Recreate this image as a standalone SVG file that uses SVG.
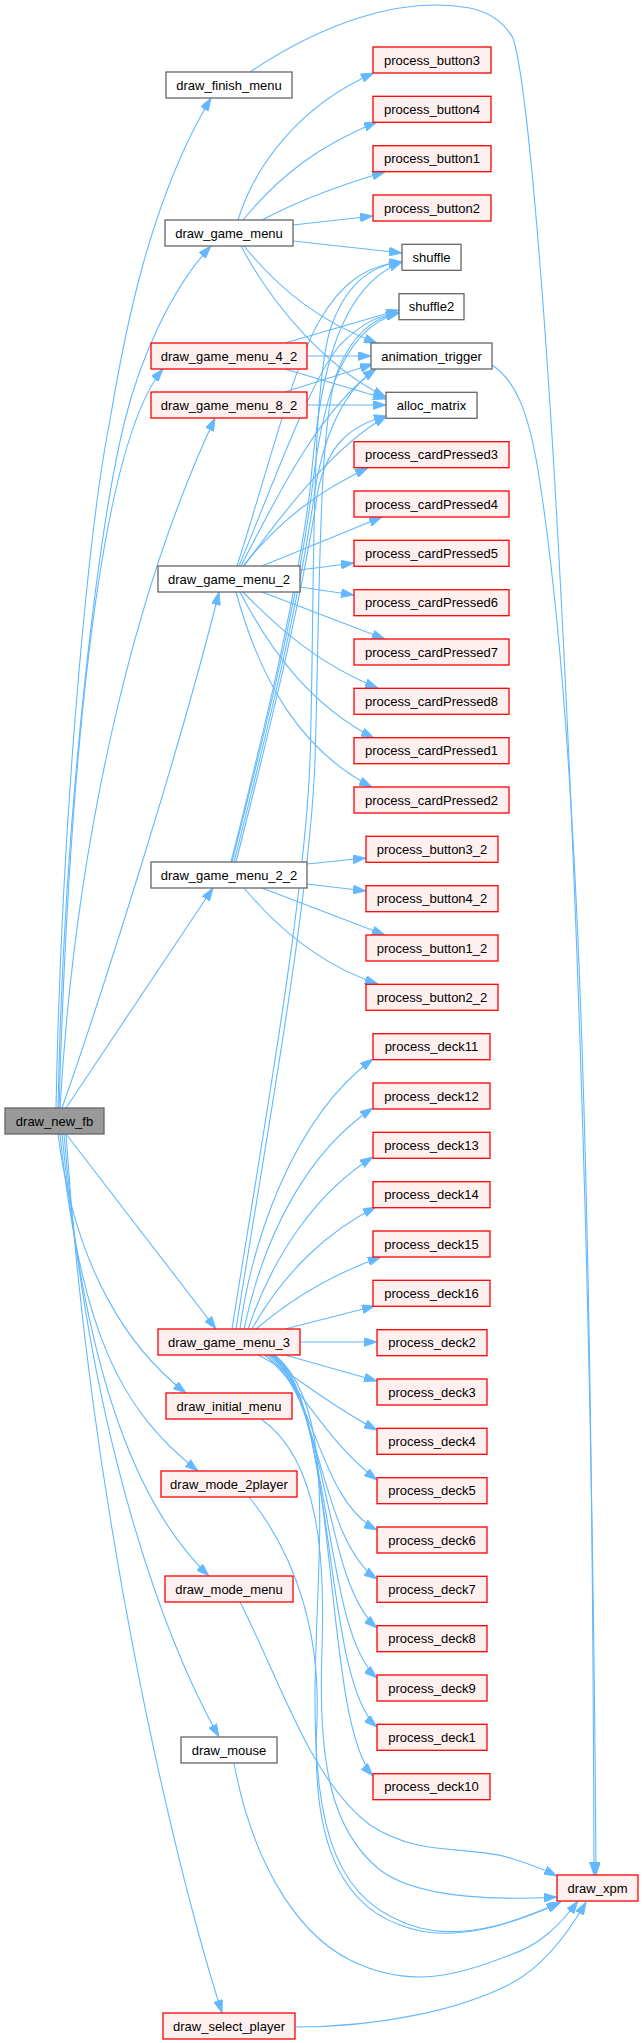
<svg xmlns="http://www.w3.org/2000/svg" width="643" height="2043" viewBox="0 0 643 2043">
<style>
rect{stroke-width:1.3}
.w rect{fill:#ffffff;stroke:#666666}
.r rect{fill:#fff0f0;stroke:#ff0000}
.g rect{fill:#999999;stroke:#666666}
text{font-family:"Liberation Sans",Arial,Helvetica,sans-serif;font-size:13px;text-anchor:middle;fill:#000000}
#edges path{fill:none;stroke:#63b8ff;stroke-width:1.1;marker-end:url(#a)}
</style>
<defs>
<marker id="a" viewBox="0 0 13 9" refX="13" refY="4.5" markerWidth="13" markerHeight="9" markerUnits="userSpaceOnUse" orient="auto">
<path d="M0,0 L13,4.5 L0,9 z" fill="#63b8ff" stroke="#63b8ff" stroke-width="0.8"/>
</marker>
</defs>
<rect width="643" height="2043" fill="#ffffff"/>
<g id="edges">
<path d="M56,1108 C62,800 90,520 110,420 C125,330 150,200 211,98"/>
<path d="M58,1108 C64,800 100,520 125,420 C140,360 170,290 211,246"/>
<path d="M59,1108 C68,800 95,450 163,369"/>
<path d="M60,1108 C75,850 130,600 215,418"/>
<path d="M62,1108 C100,1000 180,750 219,592"/>
<path d="M66,1108 L213,888"/>
<path d="M66,1134 L216,1329"/>
<path d="M58,1134 C75,1270 130,1350 186,1393"/>
<path d="M60,1134 C80,1330 120,1410 198,1471"/>
<path d="M62,1134 C85,1380 140,1510 209,1576"/>
<path d="M64,1134 C90,1450 170,1650 219,1737"/>
<path d="M66,1134 C90,1500 170,1850 222,2013"/>
<path d="M238,220 C255,165 300,105 374,73"/>
<path d="M243,220 C280,175 320,145 377,122"/>
<path d="M262,220 C300,200 340,185 385,172"/>
<path d="M293,225 L373,216"/>
<path d="M293,241 L402,253"/>
<path d="M244,246 C280,290 320,322 377,343"/>
<path d="M241,246 C275,310 330,370 386,397"/>
<path d="M285,343 L399,310"/>
<path d="M307,356 L371,356"/>
<path d="M285,369 L386,399"/>
<path d="M285,392 L373,364"/>
<path d="M307,405 L386,405"/>
<path d="M492,365 C515,380 528,410 538,470 C575,700 592,1100 594,1875"/>
<path d="M250,72 C320,25 400,-5 470,8 C495,14 505,25 513,38 C540,120 590,900 596,1875"/>
<path d="M237,566 C265,480 295,360 320,320 C340,285 365,265 402,262"/>
<path d="M239,566 C275,480 310,380 340,345 C360,325 375,316 399,313"/>
<path d="M241,566 C280,490 320,410 376,369"/>
<path d="M244,566 C285,510 335,445 387,416"/>
<path d="M243,566 C280,520 320,490 368,468"/>
<path d="M262,566 L382,517"/>
<path d="M300,570 L354,563"/>
<path d="M300,587 L354,595"/>
<path d="M262,592 L385,639"/>
<path d="M243,592 C280,630 320,665 378,688"/>
<path d="M240,592 C270,650 310,705 374,738"/>
<path d="M236,592 C260,680 300,750 372,787"/>
<path d="M234,862 C265,740 300,600 315,490 C325,430 345,390 376,369"/>
<path d="M236,862 C267,740 302,600 318,490 C328,445 350,425 387,416"/>
<path d="M232,862 C263,740 298,600 312,490 C320,420 335,330 399,313"/>
<path d="M231,862 C262,740 296,600 310,490 C318,400 330,290 402,262"/>
<path d="M307,864 L366,858"/>
<path d="M307,884 L366,891"/>
<path d="M262,888 L385,935"/>
<path d="M244,888 C275,925 320,965 378,984"/>
<path d="M232,1329 C260,1150 305,900 310,760 C315,600 310,400 330,330 C345,285 370,265 402,262"/>
<path d="M236,1329 C264,1150 310,900 315,760 C320,600 318,420 338,370 C350,340 370,318 399,313"/>
<path d="M240,1329 C250,1250 290,1120 373,1059"/>
<path d="M244,1329 C265,1230 310,1150 373,1108"/>
<path d="M248,1329 C275,1250 320,1190 373,1157"/>
<path d="M252,1329 C285,1270 330,1230 376,1207"/>
<path d="M256,1329 C290,1300 330,1275 381,1257"/>
<path d="M285,1329 L375,1306"/>
<path d="M300,1342 L377,1342"/>
<path d="M285,1355 L377,1381"/>
<path d="M258,1355 C290,1370 320,1400 377,1430"/>
<path d="M265,1355 C300,1385 325,1440 377,1480"/>
<path d="M268,1355 C318,1400 320,1500 377,1530"/>
<path d="M270,1355 C322,1400 320,1540 377,1579"/>
<path d="M271,1355 C328,1400 322,1580 377,1628"/>
<path d="M272,1355 C332,1400 322,1630 377,1678"/>
<path d="M273,1355 C336,1400 322,1680 377,1727"/>
<path d="M274,1355 C340,1400 322,1720 373,1776"/>
<path d="M275,1355 C340,1410 315,1560 315,1700 C315,1830 335,1905 420,1928 C470,1940 520,1920 561,1902"/>
<path d="M261,1419 C320,1460 325,1560 322,1650 C318,1760 330,1830 380,1870 C420,1900 500,1900 557,1897"/>
<path d="M249,1497 C300,1560 320,1640 317,1720 C312,1820 330,1900 400,1925 C450,1945 510,1925 560,1903"/>
<path d="M240,1602 C280,1680 310,1780 370,1825 C420,1858 470,1845 510,1858 C530,1864 545,1870 557,1876"/>
<path d="M234,1763 C250,1850 290,1930 350,1960 C410,1990 460,1975 510,1955 C540,1945 560,1925 578,1901"/>
<path d="M295,2027 C380,2027 460,2010 512,1983 C545,1965 570,1930 586,1902"/>
</g>
<g id="draw_new_fb" class="g"><rect x="5" y="1108" width="99" height="26"/><text x="54.5" y="1125.5">draw_new_fb</text></g>
<g id="draw_finish_menu" class="w"><rect x="166" y="72" width="126" height="26"/><text x="229" y="89.5">draw_finish_menu</text></g>
<g id="draw_game_menu" class="w"><rect x="165" y="220" width="128" height="26"/><text x="229" y="237.5">draw_game_menu</text></g>
<g id="draw_game_menu_4_2" class="r"><rect x="151" y="343" width="156" height="26"/><text x="229" y="360.5">draw_game_menu_4_2</text></g>
<g id="draw_game_menu_8_2" class="r"><rect x="151" y="392" width="156" height="26"/><text x="229" y="409.5">draw_game_menu_8_2</text></g>
<g id="draw_game_menu_2" class="w"><rect x="158" y="566" width="142" height="26"/><text x="229" y="583.5">draw_game_menu_2</text></g>
<g id="draw_game_menu_2_2" class="w"><rect x="151" y="862" width="156" height="26"/><text x="229" y="879.5">draw_game_menu_2_2</text></g>
<g id="draw_game_menu_3" class="r"><rect x="158" y="1329" width="142" height="26"/><text x="229" y="1346.5">draw_game_menu_3</text></g>
<g id="draw_initial_menu" class="r"><rect x="166" y="1393" width="126" height="26"/><text x="229" y="1410.5">draw_initial_menu</text></g>
<g id="draw_mode_2player" class="r"><rect x="161" y="1471" width="136" height="26"/><text x="229" y="1488.5">draw_mode_2player</text></g>
<g id="draw_mode_menu" class="r"><rect x="165" y="1576" width="128" height="26"/><text x="229" y="1593.5">draw_mode_menu</text></g>
<g id="draw_mouse" class="w"><rect x="181" y="1737" width="96" height="26"/><text x="229" y="1754.5">draw_mouse</text></g>
<g id="draw_select_player" class="r"><rect x="163" y="2013" width="132" height="26"/><text x="229" y="2030.5">draw_select_player</text></g>
<g id="process_button3" class="r"><rect x="373" y="47" width="118" height="26"/><text x="432" y="64.5">process_button3</text></g>
<g id="process_button4" class="r"><rect x="373" y="96.3" width="118" height="26"/><text x="432" y="113.8">process_button4</text></g>
<g id="process_button1" class="r"><rect x="373" y="145.7" width="118" height="26"/><text x="432" y="163.2">process_button1</text></g>
<g id="process_button2" class="r"><rect x="373" y="195" width="118" height="26"/><text x="432" y="212.5">process_button2</text></g>
<g id="shuffle" class="w"><rect x="402" y="244.3" width="59" height="26"/><text x="431.5" y="261.8">shuffle</text></g>
<g id="shuffle2" class="w"><rect x="399" y="293.7" width="65" height="26"/><text x="431.5" y="311.2">shuffle2</text></g>
<g id="animation_trigger" class="w"><rect x="371" y="343" width="121" height="26"/><text x="431.5" y="360.5">animation_trigger</text></g>
<g id="alloc_matrix" class="w"><rect x="386" y="392.3" width="91" height="26"/><text x="431.5" y="409.8">alloc_matrix</text></g>
<g id="process_cardPressed3" class="r"><rect x="354" y="441.7" width="155" height="26"/><text x="431.5" y="459.2">process_cardPressed3</text></g>
<g id="process_cardPressed4" class="r"><rect x="354" y="491" width="155" height="26"/><text x="431.5" y="508.5">process_cardPressed4</text></g>
<g id="process_cardPressed5" class="r"><rect x="354" y="540.3" width="155" height="26"/><text x="431.5" y="557.8">process_cardPressed5</text></g>
<g id="process_cardPressed6" class="r"><rect x="354" y="589.7" width="155" height="26"/><text x="431.5" y="607.2">process_cardPressed6</text></g>
<g id="process_cardPressed7" class="r"><rect x="354" y="639" width="155" height="26"/><text x="431.5" y="656.5">process_cardPressed7</text></g>
<g id="process_cardPressed8" class="r"><rect x="354" y="688.3" width="155" height="26"/><text x="431.5" y="705.8">process_cardPressed8</text></g>
<g id="process_cardPressed1" class="r"><rect x="354" y="737.7" width="155" height="26"/><text x="431.5" y="755.2">process_cardPressed1</text></g>
<g id="process_cardPressed2" class="r"><rect x="354" y="787" width="155" height="26"/><text x="431.5" y="804.5">process_cardPressed2</text></g>
<g id="process_button3_2" class="r"><rect x="366" y="836.3" width="132" height="26"/><text x="432" y="853.8">process_button3_2</text></g>
<g id="process_button4_2" class="r"><rect x="366" y="885.7" width="132" height="26"/><text x="432" y="903.2">process_button4_2</text></g>
<g id="process_button1_2" class="r"><rect x="366" y="935" width="132" height="26"/><text x="432" y="952.5">process_button1_2</text></g>
<g id="process_button2_2" class="r"><rect x="366" y="984.3" width="132" height="26"/><text x="432" y="1001.8">process_button2_2</text></g>
<g id="process_deck11" class="r"><rect x="373" y="1033.7" width="117" height="26"/><text x="431.5" y="1051.2">process_deck11</text></g>
<g id="process_deck12" class="r"><rect x="373" y="1083" width="117" height="26"/><text x="431.5" y="1100.5">process_deck12</text></g>
<g id="process_deck13" class="r"><rect x="373" y="1132.3" width="117" height="26"/><text x="431.5" y="1149.8">process_deck13</text></g>
<g id="process_deck14" class="r"><rect x="373" y="1181.7" width="117" height="26"/><text x="431.5" y="1199.2">process_deck14</text></g>
<g id="process_deck15" class="r"><rect x="373" y="1231" width="117" height="26"/><text x="431.5" y="1248.5">process_deck15</text></g>
<g id="process_deck16" class="r"><rect x="373" y="1280.3" width="117" height="26"/><text x="431.5" y="1297.8">process_deck16</text></g>
<g id="process_deck2" class="r"><rect x="377" y="1329.7" width="110" height="26"/><text x="432" y="1347.2">process_deck2</text></g>
<g id="process_deck3" class="r"><rect x="377" y="1379" width="110" height="26"/><text x="432" y="1396.5">process_deck3</text></g>
<g id="process_deck4" class="r"><rect x="377" y="1428.3" width="110" height="26"/><text x="432" y="1445.8">process_deck4</text></g>
<g id="process_deck5" class="r"><rect x="377" y="1477.7" width="110" height="26"/><text x="432" y="1495.2">process_deck5</text></g>
<g id="process_deck6" class="r"><rect x="377" y="1527" width="110" height="26"/><text x="432" y="1544.5">process_deck6</text></g>
<g id="process_deck7" class="r"><rect x="377" y="1576.3" width="110" height="26"/><text x="432" y="1593.8">process_deck7</text></g>
<g id="process_deck8" class="r"><rect x="377" y="1625.7" width="110" height="26"/><text x="432" y="1643.2">process_deck8</text></g>
<g id="process_deck9" class="r"><rect x="377" y="1675" width="110" height="26"/><text x="432" y="1692.5">process_deck9</text></g>
<g id="process_deck1" class="r"><rect x="377" y="1724.3" width="110" height="26"/><text x="432" y="1741.8">process_deck1</text></g>
<g id="process_deck10" class="r"><rect x="373" y="1773.7" width="117" height="26"/><text x="431.5" y="1791.2">process_deck10</text></g>
<g id="draw_xpm" class="r"><rect x="557" y="1875" width="81" height="26"/><text x="597.5" y="1892.5">draw_xpm</text></g>
</svg>
